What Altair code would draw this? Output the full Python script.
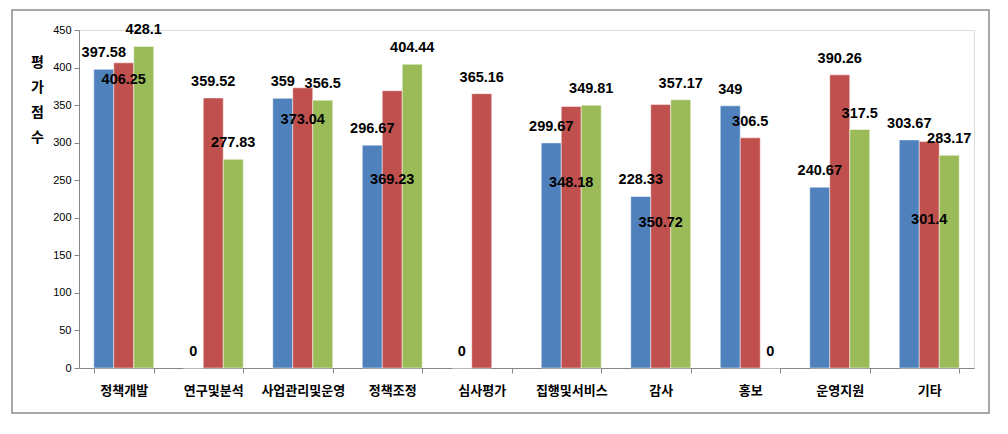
import altair as alt
import pandas as pd

categories = ["정책개발", "연구및분석", "사업관리및운영", "정책조정", "심사평가",
              "집행및서비스", "감사", "홍보", "운영지원", "기타"]
series = ["계열1", "계열2", "계열3"]
blue_values = [397.58, 0, 359, 296.67, 0, 299.67, 228.33, 349, 240.67, 303.67]
red_values = [406.25, 359.52, 373.04, 369.23, 365.16, 348.18, 350.72, 306.5, 390.26, 301.4]
green_values = [428.1, 277.83, 356.5, 404.44, None, 349.81, 357.17, 0, 317.5, 283.17]
colors = ["#4F81BD", "#C0504D", "#9BBB59"]

# label placement tweaks (pixels pushed down from the default spot above the bar)
label_shift = {("정책개발", "계열2"): 33, ("사업관리및운영", "계열2"): 48,
               ("정책조정", "계열2"): 105, ("집행및서비스", "계열2"): 93,
               ("감사", "계열2"): 134, ("기타", "계열2"): 94}

rows = []
for s, vals in zip(series, [blue_values, red_values, green_values]):
    for c, v in zip(categories, vals):
        if v is None:
            continue
        rows.append({"category": c, "series": s, "value": v,
                     "label": f"{v:g}", "shift": label_shift.get((c, s), 0)})
df = pd.DataFrame(rows)

H = 338
W = 895
num_font = "Liberation Sans"
kr_font = "Noto Sans CJK KR"

yscale = alt.Scale(domain=[0, 450], nice=False, zero=True)
yaxis = alt.Axis(values=list(range(0, 451, 50)), grid=False, domainColor="#868686",
                 tickColor="#868686", tickSize=5, labelFont=num_font, labelFontSize=11,
                 labelColor="#000000", labelPadding=3,
                 title=["평", "가", "점", "수"], titleAngle=0, titleFont=kr_font,
                 titleFontSize=14, titleFontWeight="bold", titleLineHeight=25,
                 titleAlign="center", titleBaseline="top", titleX=-42, titleY=25,
                 titleColor="#000000")
xaxis = alt.Axis(title=None, tickBand="extent", domainColor="#868686", tickColor="#868686",
                 tickSize=5, labelFont=kr_font, labelFontSize=13, labelFontWeight="bold",
                 labelColor="#000000", labelPadding=11, labelAngle=0)

base = alt.Chart(df).encode(
    x=alt.X("category:N", sort=categories,
            scale=alt.Scale(paddingInner=0.33, paddingOuter=0.165), axis=xaxis),
    xOffset=alt.XOffset("series:N", sort=series,
                        scale=alt.Scale(paddingInner=0, paddingOuter=0)),
)

bars = base.mark_bar(stroke="#ffffff", strokeWidth=0.8, strokeOpacity=0.6).encode(
    y=alt.Y("value:Q", scale=yscale, axis=yaxis),
    color=alt.Color("series:N", scale=alt.Scale(domain=series, range=colors), legend=None),
)

labels = base.transform_calculate(
    ly=f"datum.value - datum.shift * 450 / {H}"
).mark_text(dy=-16, baseline="middle", align="center", font=num_font,
            fontSize=14.5, fontWeight="bold", color="#000000").encode(
    y=alt.Y("ly:Q", scale=yscale, axis=yaxis),
    text="label:N",
)

border = alt.Chart(pd.DataFrame({"a": [0]})).mark_rect(
    fillOpacity=0, stroke="#8c8c8c", strokeWidth=1.5
).encode(x=alt.value(-67), x2=alt.value(910), y=alt.value(-20), y2=alt.value(383))

chart = alt.layer(bars, labels, border).properties(
    width=W, height=H,
    autosize=alt.AutoSizeParams(type="none"),
    padding={"left": 79, "top": 30, "right": 34, "bottom": 66},
).configure_view(stroke=None).configure(background="#ffffff")

chart.save("out.html", embed_options={"renderer": "svg", "actions": False})
